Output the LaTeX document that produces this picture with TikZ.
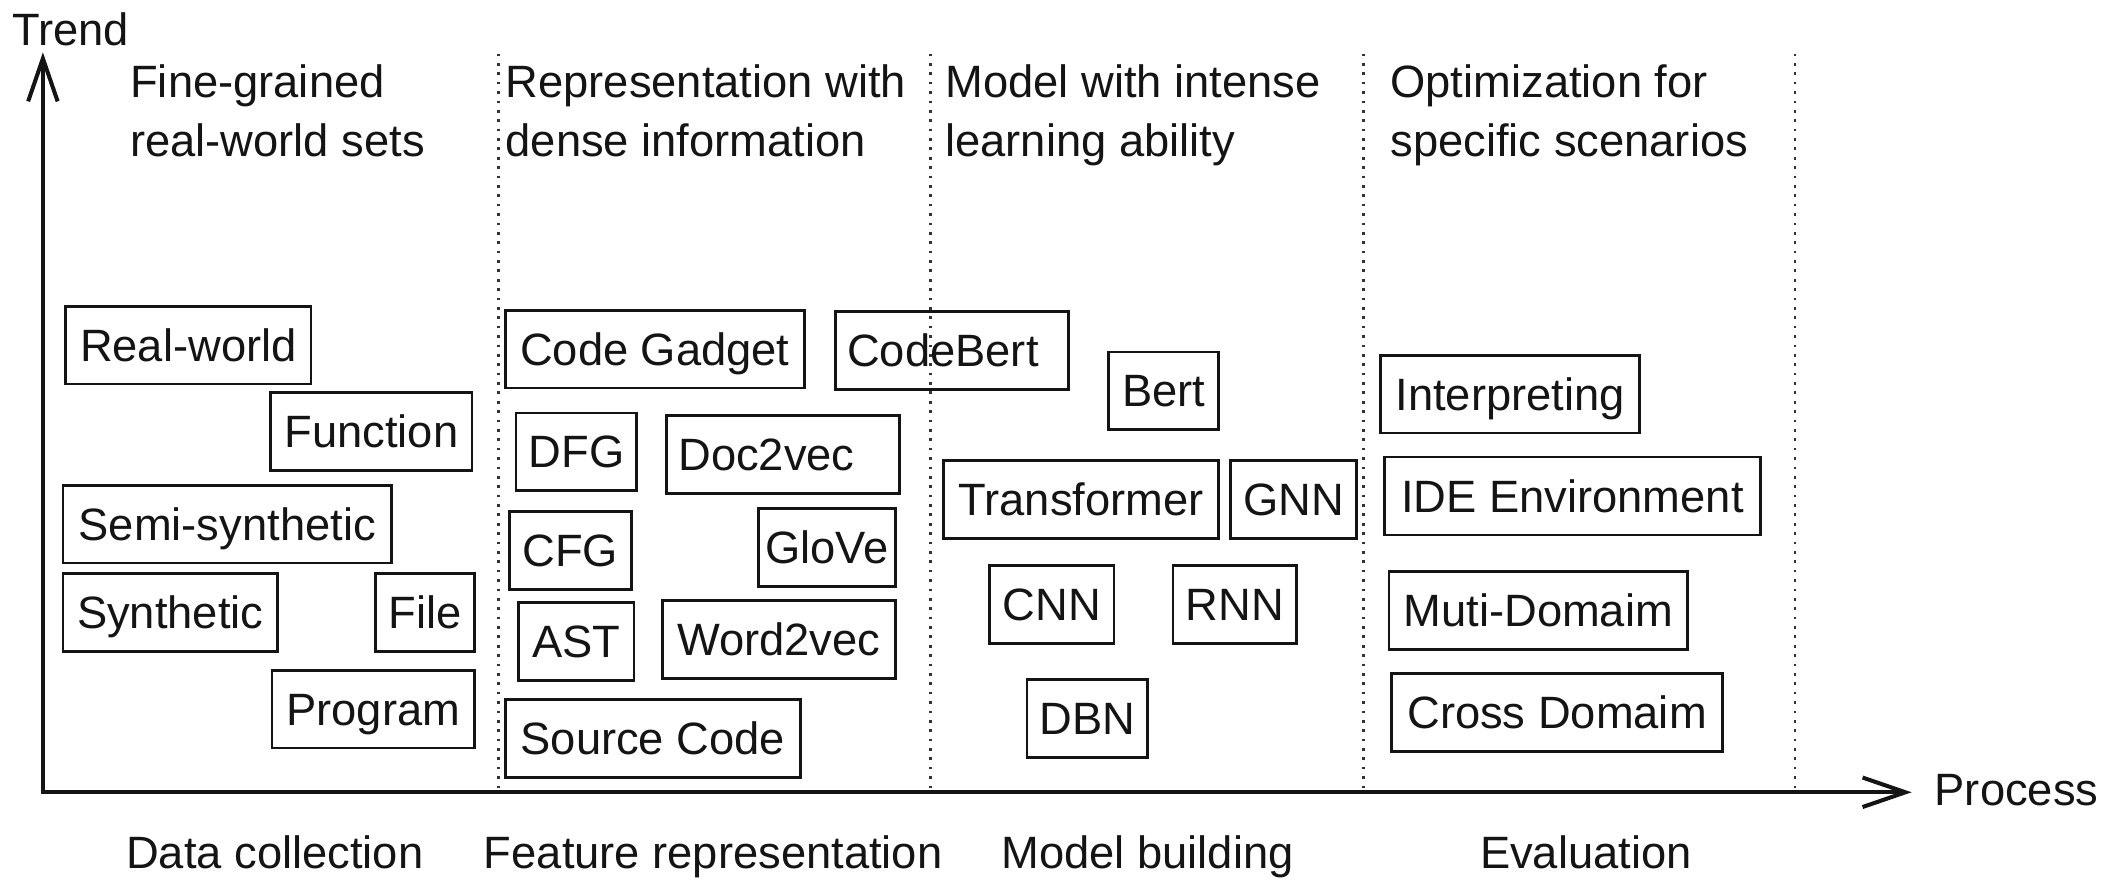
\documentclass[tikz,border=0pt]{standalone}
\usepackage{fontspec}
\setmainfont{Liberation Sans}
\usetikzlibrary{arrows.meta}
\definecolor{ink}{HTML}{141414}
\begin{document}
\begin{tikzpicture}[x=1pt,y=-1pt,
  font=\fontsize{33.8}{40}\selectfont, text=ink,
  box/.style={draw=ink, line width=2pt, minimum height=58pt, inner sep=0pt,
              text height=24pt, text depth=0pt},
  lbox/.style={box, inner xsep=9pt, align=left},
  head/.style={inner sep=0pt, anchor=base west},
  stage/.style={inner sep=0pt, anchor=base},
  divider/.style={draw=black!80, line width=2pt, dash pattern=on 2pt off 5pt},
  axis/.style={draw=ink, line width=3pt, line join=miter,
    {Straight Barb[length=32pt,width=22pt]}-{Straight Barb[length=32pt,width=22pt]}}]

\useasboundingbox (0,0) rectangle (1568,656);

% axes
\coordinate (O) at (32,591);
\coordinate (ytip) at (32,39);
\coordinate (xtip) at (1426,591);
\draw[axis] (ytip) -- (O) -- (xtip);
\node[head] (trend) at (9,34) {Trend};
\node[head] (process) at (1443,601) {Process};

% stage dividers
\foreach \x/\n in {372/d1, 694/d2, 1017/d3, 1339/d4}{
  \coordinate (\n top) at (\x,40);
  \coordinate (\n bot) at (\x,591);
  \draw[divider] (\n top) -- (\n bot);
}

% column headings
\node[head] (h1a) at (97,73) {Fine-grained};
\node[head] (h1b) at (97,117) {real-world sets};
\node[head] (h2a) at (377,73) {Representation with};
\node[head] (h2b) at (377,117) {dense information};
\node[head] (h3a) at (705,73) {Model with intense};
\node[head] (h3b) at (705,117) {learning ability};
\node[head] (h4a) at (1037,73) {Optimization for};
\node[head] (h4b) at (1037,117) {specific scenarios};

% stage names
\node[stage] (s1) at (205,648) {Data collection};
\node[stage] (s2) at (532,648) {Feature representation};
\node[stage] (s3) at (856,648) {Model building};
\node[stage] (s4) at (1183,648) {Evaluation};

% data collection
\node[box, minimum width=183pt] (realworld) at (140.5,257.5) {Real-world};
\node[box, minimum width=150pt] (function) at (277,322) {Function};
\node[box, minimum width=245pt] (semisyn) at (169.5,391) {Semi-synthetic};
\node[box, minimum width=160pt] (synthetic) at (127,457) {Synthetic};
\node[box, minimum width=74pt] (file) at (317,457) {File};
\node[box, minimum width=151pt] (program) at (278.5,529) {Program};

% feature representation
\node[box, minimum width=223pt] (gadget) at (488.5,260.5) {Code Gadget};
\node[lbox, text width=156pt] (codebert) at (710,261.5) {CodeBert};
\node[box, minimum width=90pt] (dfg) at (430,337) {DFG};
\node[lbox, text width=156pt] (doc2vec) at (584,339) {Doc2vec};
\node[box, minimum width=91pt] (cfg) at (425.5,410.5) {CFG};
\node[box, minimum width=102pt] (glove) at (617,408.5) {GloVe};
\node[box, minimum width=86pt] (ast) at (430,478.5) {AST};
\node[box, minimum width=174pt] (word2vec) at (581,477) {Word2vec};
\node[box, minimum width=220pt] (source) at (487,551) {Source Code};

% model building
\node[box, minimum width=82pt] (bert) at (868,291.5) {Bert};
\node[box, minimum width=205pt] (transformer) at (806.5,372.5) {Transformer};
\node[box, minimum width=94pt] (gnn) at (965,372.5) {GNN};
\node[box, minimum width=93pt] (cnn) at (784.5,451) {CNN};
\node[box, minimum width=92pt] (rnn) at (921,451) {RNN};
\node[box, minimum width=90pt] (dbn) at (811,536) {DBN};

% evaluation
\node[box, minimum width=193pt] (interp) at (1126.5,294) {Interpreting};
\node[box, minimum width=280pt] (ide) at (1173,370) {IDE Environment};
\node[box, minimum width=223pt] (muti) at (1147.5,455.5) {Muti-Domaim};
\node[box, minimum width=247pt] (cross) at (1161.5,531.5) {Cross Domaim};
\end{tikzpicture}
\end{document}
